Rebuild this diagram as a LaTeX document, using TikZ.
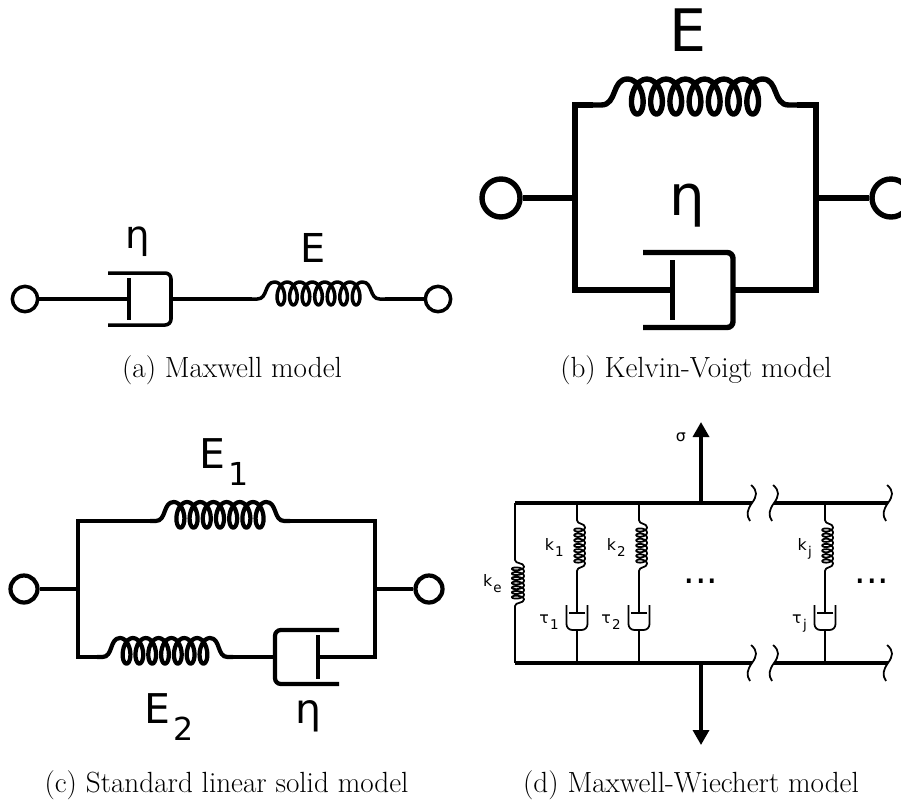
\documentclass[tikz,border=0pt]{standalone}
\usepackage{fontspec}
\usetikzlibrary{arrows.meta}
\newfontfamily\labelfont{DejaVu Sans}
\newcommand{\sublabel}[3]{#2\kern.08em\raisebox{-.42em}{\fontsize{#1}{#1}\selectfont #3}}
\tikzset{
    coilpic/.pic={
        \coordinate (-in) at (0,0);
        \coordinate (-out) at (1,0);
        \draw[line join=round] (0,0) -- (.04,0) .. controls (.12,0) and (.09,-1) .. (.17,-1)
            -- plot[domain=180:2700, samples=169, smooth, variable=\t]
                ({.17 + .66/7*(\t-180)/360 - .05*sin(\t)}, {-.325 + .675*cos(\t)})
            -- (.83,-1) .. controls (.91,-1) and (.88,0) .. (.96,0) -- (1,0);
    },
    dashpic/.pic={
        \coordinate (-piston) at (.33,0);
        \coordinate (-back) at (1,0);
        \draw[rounded corners=5pt] (0,-1) -- (1,-1) -- (1,1) -- (0,1);
        \draw (.33,-.8) -- (.33,.8);
    },
    breakpic/.pic={
        \draw (-1,-18) .. controls (6,-12) and (5,-7) .. (0,0)
            .. controls (-5,7) and (-6,12) .. (-2,18);
    },
    lineA/.style={line width=3pt},
    lineB/.style={line width=4.6pt},
    lineC/.style={line width=3.6pt},
    lineD/.style={line width=1.5pt},
    terminalA/.style={lineA, draw, fill=white, circle, inner sep=0pt, minimum size=0.76cm},
    terminalB/.style={lineB, draw, fill=white, circle, inner sep=0pt, minimum size=1.14cm},
    terminalC/.style={lineC, draw, fill=white, circle, inner sep=0pt, minimum size=0.81cm},
    smalltext/.style={font=\labelfont\fontsize{13.5}{13.5}\selectfont, inner sep=0pt},
    captiontext/.style={font=\fontsize{24.9}{30}\selectfont, anchor=base, inner sep=0pt},
}
\begin{document}
\begin{tikzpicture}[x=0.03cm,y=-0.03cm]
    \useasboundingbox (0,0) rectangle (901,803);

    % Maxwell model
    \node[terminalA] (mxleft) at (25,299) {};
    \node[terminalA] (mxright) at (438,299) {};
    \pic[lineA, xscale=63, yscale=26] (mxdash) at (108,299) {dashpic};
    \pic[lineA, xscale=133, yscale=17] (mxspring) at (252,299) {coilpic};
    \draw[lineA] (mxleft) -- (mxdash-piston);
    \draw[lineA] (mxdash-back) -- (mxspring-in);
    \draw[lineA] (mxspring-out) -- (mxright);
    \node[font=\labelfont\fontsize{33}{33}\selectfont, inner sep=0pt] (mxeta) at (137.5,242) {η};
    \node[font=\labelfont\fontsize{34}{34}\selectfont, inner sep=0pt] (mxE) at (313,248) {E};
    \node[captiontext] (capa) at (232,377) {(a) Maxwell model};

    % Kelvin-Voigt model
    \coordinate (kvwest) at (575,198);
    \coordinate (kveast) at (816,198);
    \node[terminalB] (kvleft) at (501,198) {};
    \node[terminalB] (kvright) at (891,198) {};
    \pic[lineB, xscale=204, yscale=26] (kvspring) at (593,105) {coilpic};
    \pic[lineB, xscale=90, yscale=37.5] (kvdash) at (643,290) {dashpic};
    \draw[lineB] (kvspring-in) -- (kvspring-in -| kvwest) -- (kvdash-piston -| kvwest) -- (kvdash-piston);
    \draw[lineB] (kvspring-out) -- (kvspring-out -| kveast) -- (kvdash-back -| kveast) -- (kvdash-back);
    \draw[lineB] (kvleft) -- (kvwest);
    \draw[lineB] (kveast) -- (kvright);
    \node[font=\labelfont\fontsize{50}{50}\selectfont, inner sep=0pt] (kvE) at (688,30) {E};
    \node[font=\labelfont\fontsize{48}{48}\selectfont, inner sep=0pt] (kveta) at (687,206) {η};
    \node[captiontext] (capb) at (696,377) {(b) Kelvin-Voigt model};

    % Standard linear solid model
    \coordinate (slswest) at (78,589);
    \coordinate (slseast) at (375,589);
    \node[terminalC] (slsleft) at (24,589) {};
    \node[terminalC] (slsright) at (429,589) {};
    \pic[lineC, xscale=140, yscale=19] (slsspringa) at (150,521) {coilpic};
    \pic[lineC, xscale=136, yscale=19] (slsspringb) at (97,657) {coilpic};
    \pic[lineC, xscale=-64, yscale=27] (slsdash) at (339,657) {dashpic};
    \draw[lineC] (slsspringa-in) -- (slsspringa-in -| slswest) -- (slsspringb-in -| slswest) -- (slsspringb-in);
    \draw[lineC] (slsspringa-out) -- (slsspringa-out -| slseast) -- (slsdash-piston -| slseast) -- (slsdash-piston);
    \draw[lineC] (slsspringb-out) -- (slsdash-back);
    \draw[lineC] (slsleft) -- (slswest);
    \draw[lineC] (slseast) -- (slsright);
    \node[font=\labelfont\fontsize{35}{35}\selectfont, inner sep=0pt, anchor=base west] (slsEa) at (199,468) {\sublabel{27}{E}{1}};
    \node[font=\labelfont\fontsize{35}{35}\selectfont, inner sep=0pt, anchor=base west] (slsEb) at (144,723) {\sublabel{27}{E}{2}};
    \node[font=\labelfont\fontsize{35}{35}\selectfont, inner sep=0pt] (slseta) at (308,716.5) {η};
    \node[captiontext] (capc) at (226.5,792) {(c) Standard linear solid model};

    % Maxwell-Wiechert model
    \foreach \y/\row in {503/top,663/bot} {
        \coordinate (\row west) at (515,\y);
        \coordinate (\row mid) at (701,\y);
        \coordinate (\row cuta) at (752,\y);
        \coordinate (\row cutb) at (774,\y);
        \coordinate (\row end) at (888,\y);
        \draw[lineA] (\row west) -- (\row cuta);
        \draw[lineA] (\row cutb) -- (\row end);
        \pic[lineD] (\row marka) at (\row cuta) {breakpic};
        \pic[lineD] (\row markb) at (\row cutb) {breakpic};
        \pic[lineD] (\row markc) at (\row end) {breakpic};
    }
    % the spring and damper branches
    \pic[lineD, rotate=-90, xscale=50, yscale=9] (mwke) at (515,558) {coilpic};
    \draw[lineD] (topwest) -- (mwke-in);
    \draw[lineD] (mwke-out) -- (botwest);
    \node[smalltext, anchor=base east] (mwkelabel) at (502,586) {\sublabel{11.5}{k}{e}};
    \foreach \n/\x/\kn/\tn/\ln in {a/577/k1/t1/1, b/639/k2/t2/2, c/825/kj/tj/j} {
        \coordinate (\kn top) at (\x,503);
        \coordinate (\kn bot) at (\x,663);
        \pic[lineD, rotate=-90, xscale=55, yscale=8] (\kn) at (\x,518) {coilpic};
        \pic[lineD, rotate=-90, xscale=25, yscale=10.5] (\tn) at (\x,605) {dashpic};
        \draw[lineD] (\kn top) -- (\kn-in);
        \draw[lineD] (\kn-out) -- (\tn-piston);
        \draw[lineD] (\tn-back) -- (\kn bot);
        \node[smalltext, anchor=base east] (\kn label) at (\x-13,550) {\sublabel{11.5}{k}{\ln}};
        \node[smalltext, anchor=base east] (\tn label) at (\x-18,623) {\sublabel{11.5}{τ}{\ln}};
    }
    % the force arrows
    \coordinate (toptip) at (701,422);
    \coordinate (bottip) at (701,745);
    \draw[lineA, -{Triangle[length=12.8pt,width=13.6pt]}] (topmid) -- (toptip);
    \draw[lineA, -{Triangle[length=12.8pt,width=13.6pt]}] (botmid) -- (bottip);
    \node[smalltext] (mwsigma) at (681,437) {σ};
    \node[font=\labelfont\fontsize{31}{31}\selectfont, inner sep=0pt] (mwdotsa) at (701,581) {...};
    \node[font=\labelfont\fontsize{31}{31}\selectfont, inner sep=0pt] (mwdotsb) at (872,581) {...};
    \node[captiontext] (capd) at (691,792) {(d) Maxwell-Wiechert model};
\end{tikzpicture}
\end{document}
